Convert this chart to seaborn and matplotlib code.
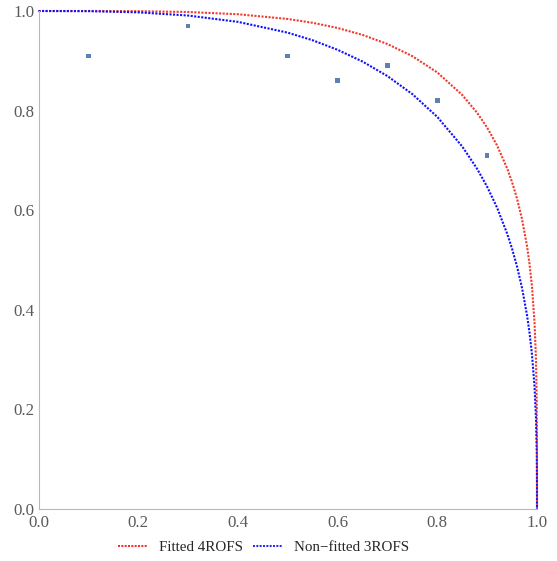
import numpy as np
import pandas as pd
import seaborn as sns
from matplotlib import pyplot as plt
from matplotlib.ticker import MultipleLocator

# Measured points
pts_x = [0.1, 0.3, 0.5, 0.6, 0.7, 0.8, 0.9]
pts_y = [0.91, 0.97, 0.91, 0.86, 0.89, 0.82, 0.71]

# Curves (x, y along the curve)
curve_x = [0.0, 0.1, 0.2, 0.3, 0.4, 0.5, 0.55, 0.6, 0.65, 0.7, 0.75, 0.8,
           0.85, 0.88, 0.9, 0.92, 0.94, 0.95, 0.96, 0.97, 0.98, 0.985,
           0.99, 0.995, 0.998, 0.9995, 0.99995, 0.999999, 1.0]
fitted_y = [1.0, 1.0, 0.9996, 0.998, 0.9935, 0.984, 0.9763, 0.9659, 0.952,
            0.9337, 0.9093, 0.8766, 0.8315, 0.7954, 0.7658, 0.7298, 0.6843,
            0.6563, 0.623, 0.582, 0.5279, 0.4922, 0.4455, 0.3754, 0.2989,
            0.2115, 0.1189, 0.0447, 0.0]
nonfitted_y = [1.0, 0.9997, 0.9973, 0.9909, 0.9782, 0.9565, 0.9412, 0.9221,
               0.8985, 0.8693, 0.8331, 0.7873, 0.728, 0.6829, 0.6471, 0.6049,
               0.5533, 0.5225, 0.4867, 0.4437, 0.3889, 0.3539, 0.3097, 0.2462,
               0.1816, 0.1145, 0.0531, 0.01, 0.0]

labels = ["Fitted 4ROFS", "Non\u2212fitted 3ROFS"]

df = pd.DataFrame({
    "x": curve_x * 2,
    "y": fitted_y + nonfitted_y,
    "series": [labels[0]] * len(curve_x) + [labels[1]] * len(curve_x),
})
pts = pd.DataFrame({"x": pts_x, "y": pts_y})

sns.set_style("white")
plt.rcParams["font.family"] = ["Liberation Serif", "DejaVu Serif"]

fig = plt.figure(figsize=(5.57, 5.61), dpi=100)
ax = fig.add_axes([38.5 / 557, 1 - 509 / 561, 498.5 / 557, 498 / 561])

g = sns.lineplot(
    data=df, x="x", y="y", hue="series", sort=False, estimator=None,
    palette={labels[0]: "#f03a2e", labels[1]: "#1010ff"},
    linewidth=1.5, ax=ax, legend=True,
)
for line in ax.lines:
    line.set_linestyle((0, (1.0, 0.7)))
    line.set_clip_on(False)

sns.scatterplot(data=pts, x="x", y="y", marker="s", s=11, color="#5e81b5",
                edgecolor="none", linewidth=0, ax=ax, zorder=3)

ax.set_xlim(0, 1)
ax.set_ylim(0, 1)
ax.set_xlabel("")
ax.set_ylabel("")
ax.xaxis.set_major_locator(MultipleLocator(0.2))
ax.yaxis.set_major_locator(MultipleLocator(0.2))
ax.xaxis.set_minor_locator(MultipleLocator(0.05))
ax.yaxis.set_minor_locator(MultipleLocator(0.05))
ax.xaxis.set_major_formatter(lambda v, p: f"{v:.1f}")
ax.yaxis.set_major_formatter(lambda v, p: f"{v:.1f}")
ax.tick_params(which="both", direction="in", color="#b8b8b8", width=0.8,
               labelsize=12.2, labelcolor="#5a5a5a", pad=3)
ax.tick_params(which="major", length=5)
ax.tick_params(which="minor", length=3)
ax.tick_params(axis="x", pad=4.5)
sns.despine(ax=ax)
for s in ["left", "bottom"]:
    ax.spines[s].set_color("#b8b8b8")
    ax.spines[s].set_linewidth(0.8)

handles, lbls = ax.get_legend_handles_labels()
ax.get_legend().remove()
for h in handles:
    h.set_linewidth(1.2)
    h.set_linestyle((0, (1.2, 0.8)))
handles[0].set_color("#ff0000")
handles[1].set_color("#0000ff")
fig.legend(handles, lbls, loc="center", bbox_to_anchor=(263.5 / 557, 1 - 547 / 561),
           ncol=2, frameon=False, fontsize=10.8, handlelength=2.0,
           handletextpad=0.7, columnspacing=0.7, borderaxespad=0)

plt.savefig("out.png", dpi=100)
